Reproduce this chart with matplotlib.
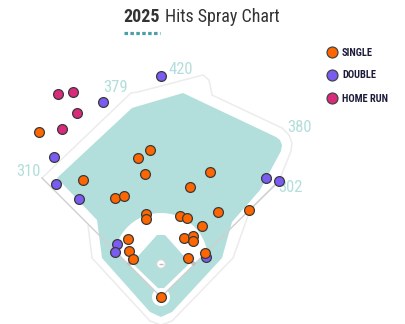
import matplotlib
matplotlib.use("Agg")
import matplotlib.pyplot as plt
from matplotlib.patches import Polygon, Circle
import numpy as np

plt.rcParams['font.family'] = ['Roboto Condensed', 'Liberation Sans Narrow', 'Roboto', 'DejaVu Sans']

# Hit locations on the field drawing (pixel space of the field graphic)
single_x = [39, 83, 150, 138, 145, 190, 115, 124, 210, 146, 146, 180, 187, 218, 202,
            128, 184, 193, 193, 129, 133, 188, 205, 161, 249]
single_y = [132, 180, 150, 158, 174, 187, 198, 196, 172, 214, 219, 216, 218, 212, 226,
            239, 238, 236, 241, 251, 259, 258, 253, 297, 210]
double_x = [161, 103, 54, 56, 79, 117, 115, 206, 266, 279]
double_y = [76, 102, 157, 184, 199, 244, 252, 257, 178, 181]
homer_x = [58, 73, 77, 62]
homer_y = [94, 92, 113, 129]

fence_labels = ["310", "379", "420", "380", "302"]
fence_label_x = [28, 116, 181, 300, 290]
fence_label_y = [171, 88, 70, 128, 188]

legend_labels = ["SINGLE", "DOUBLE", "HOME RUN"]
colors = {"SINGLE": "#ff6600", "DOUBLE": "#7a5cf2", "HOME RUN": "#d92a7c"}

TEAL = "#b2dfdb"
WALL = "#ececec"
LINE = "#cfcfcf"

fig = plt.figure(figsize=(4.06, 3.24), dpi=100)
ax = fig.add_axes([0, 0, 1, 1])
ax.set_xlim(0, 406)
ax.set_ylim(324, 0)
ax.axis("off")

home = np.array([161.0, 297.0])
left_pole = np.array([42.0, 178.0])
right_pole = np.array([279.0, 181.0])

# outer wall / stands outline
wall = [(88, 225), (92, 258), (150, 321), (161, 325), (172, 321), (233, 258), (250, 210),
        tuple(right_pole), (291, 151), (292, 143), (289, 135), (282, 128), (212, 95), (209, 80),
        (203, 75), (138, 92), (131, 93), tuple(left_pole), (88, 225)]
ax.add_patch(Polygon(wall, closed=False, fill=False, ec=WALL, lw=1.1, joinstyle="round"))

# grass
grass = [(57, 178), (132, 108), (183, 93), (276, 137), (280, 140), (282, 145), (281, 151),
         (260, 190), (232, 222), (222, 258), (172, 312), (161, 317), (150, 312),
         (102, 258), (97, 220)]
ax.add_patch(Polygon(grass, closed=True, fc=TEAL, ec="none"))

# infield dirt: circle around the mound, cut off by the foul lines
center = np.array([161.0, 260.0])
radius = 47.0


def line_circle_hit(p0, p1):
    d = (p1 - p0) / np.linalg.norm(p1 - p0)
    f = p0 - center
    b = np.dot(f, d)
    c = np.dot(f, f) - radius ** 2
    t = -b + np.sqrt(b * b - c)
    return p0 + t * d


hit_l = line_circle_hit(home, left_pole)
hit_r = line_circle_hit(home, right_pole)
a_l = np.arctan2(center[1] - hit_l[1], hit_l[0] - center[0])
a_r = np.arctan2(center[1] - hit_r[1], hit_r[0] - center[0])
th = np.linspace(a_l, a_r, 80)
arc = [(center[0] + radius * np.cos(t), center[1] - radius * np.sin(t)) for t in th]
ax.add_patch(Polygon([tuple(home)] + arc, closed=True, fc="white", ec="none"))

# infield grass diamond
diamond = [(161, 291), (132, 263), (157, 235), (165, 235), (190, 263)]
ax.add_patch(Polygon(diamond, closed=True, fc=TEAL, ec="none", joinstyle="round"))

# home plate circle and mound
ax.add_patch(Circle(tuple(home), 9, fc="white", ec="none"))
ax.add_patch(Circle((161, 264), 4.2, fc="white", ec="#d8d8d8", lw=0.8))
ax.plot([159, 163], [264, 264], color="#bbbbbb", lw=1.0, solid_capstyle="butt")

# foul lines
ax.plot([left_pole[0], home[0], right_pole[0]], [left_pole[1], home[1], right_pole[1]],
        color=LINE, lw=1.0, solid_joinstyle="miter")
# bases
ax.scatter([129, 193], [263, 263], marker="D", s=4, color="#c0c0c0", zorder=3)

# fence distances
for t, x, y in zip(fence_labels, fence_label_x, fence_label_y):
    ax.text(x, y, t, color=TEAL, fontsize=12, ha="center", va="center")

# hits
ms = 50
ax.scatter(single_x, single_y, s=ms, c=colors["SINGLE"], ec="#3a3a3a", lw=0.9, zorder=5)
ax.scatter(double_x, double_y, s=ms, c=colors["DOUBLE"], ec="#3a3a3a", lw=0.9, zorder=4)
ax.scatter(homer_x, homer_y, s=ms, c=colors["HOME RUN"], ec="#3a3a3a", lw=0.9, zorder=5)

# legend
for i, lab in enumerate(legend_labels):
    y = 52 + i * 23
    ax.scatter([332], [y], s=62, c=colors[lab], ec="#444444", lw=0.9, zorder=5)
    ax.text(342, y + 0.5, lab, color="#1b1b3a", fontsize=7.5, fontweight="bold",
            ha="left", va="center")

# title
ax.text(123, 17.5, "2025", color="#333333", fontsize=13, fontweight="bold", ha="left", va="center")
ax.text(165, 17.5, "Hits Spray Chart", color="#333333", fontsize=13, ha="left", va="center")
ax.plot([124, 160], [33, 33], color="#4aa0a8", lw=2.3, dashes=(1.1, 0.75),
        solid_capstyle="butt", dash_capstyle="butt")

fig.savefig("out.png", dpi=100)
